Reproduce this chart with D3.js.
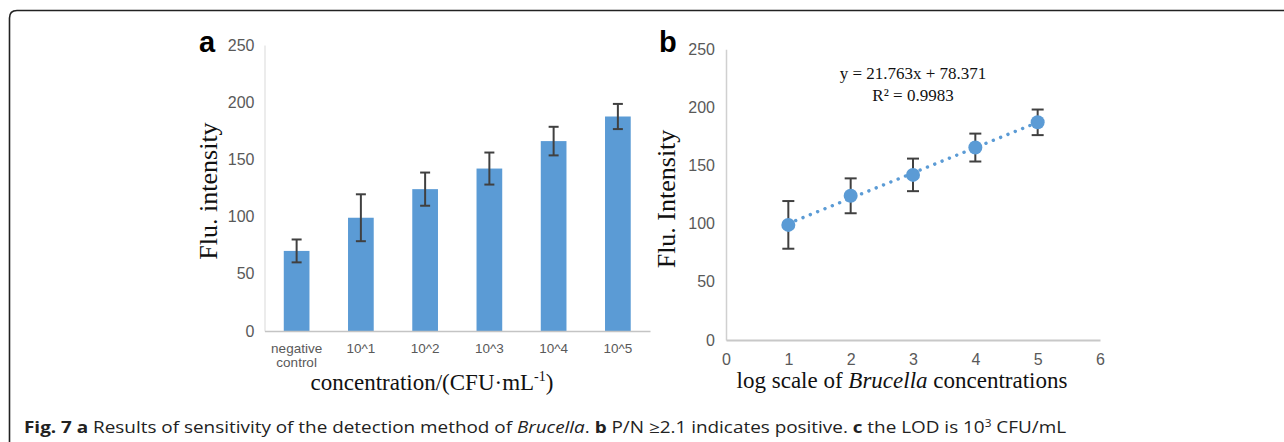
<!DOCTYPE html>
<html>
<head>
    <title>Brucella sensitivity</title>
    <script src="https://d3js.org/d3.v7.min.js"></script>
    <style>
        body { margin: 0; background: #fff; }
        .tick text { fill: #595959; font-family: "Liberation Sans", Arial, sans-serif; }
        .ttl { font-family: "Liberation Serif", "Times New Roman", serif; fill: #111; }
    </style>
</head>
<body>
    <script>
        // Data
        var categoriesA = ["negative control", "10^1", "10^2", "10^3", "10^4", "10^5"];
        var meansA = [70, 99, 124, 142, 166, 187.5];
        var errorsA = [10, 20.5, 14.5, 14, 12.5, 11];

        var logConc = [1, 2, 3, 4, 5];
        var meansB = [99, 124, 142, 165.5, 187.2];
        var errorsB = [20.5, 15, 14, 12, 11];
        var fitSlope = 21.763, fitIntercept = 78.371, fitR2 = 0.9983;

        var yTicks = [0, 50, 100, 150, 200, 250];
        var xTicksB = [0, 1, 2, 3, 4, 5, 6];

        var W = 1284, H = 442;
        var blue = "#5b9bd5", errCol = "#404040";

        var svg = d3.select("body").append("svg")
            .attr("width", W)
            .attr("height", H);

        // outer frame (open at bottom and right)
        svg.append("path")
            .attr("d", "M9.5,442 L9.5,18 Q9.5,10.5 17,10.5 L1284,10.5")
            .attr("fill", "none")
            .attr("stroke", "#222")
            .attr("stroke-width", 1.6);

        // ---------- chart a ----------
        var ga = {left: 264.5, right: 650, top: 45, bottom: 331};
        var xa = d3.scaleBand().domain(categoriesA).range([ga.left, ga.right]).paddingInner(0.6).paddingOuter(0.3);
        var ya = d3.scaleLinear().domain([0, 250]).range([ga.bottom, ga.top]);

        var axA = svg.append("g")
            .attr("transform", "translate(" + ga.left + ",0)")
            .call(d3.axisLeft(ya).tickValues(yTicks).tickSize(0).tickPadding(10));
        axA.select(".domain").attr("stroke", "#d9d9d9");
        axA.selectAll("text").attr("font-size", 16);

        svg.selectAll(".bar")
            .data(meansA)
            .enter().append("rect")
            .attr("class", "bar")
            .attr("x", function(d, i) { return xa(categoriesA[i]); })
            .attr("width", xa.bandwidth())
            .attr("y", function(d) { return ya(d); })
            .attr("height", function(d) { return ya(0) - ya(d); })
            .attr("fill", blue);

        var axAx = svg.append("g")
            .attr("transform", "translate(0," + ga.bottom + ")")
            .call(d3.axisBottom(xa).tickSize(0).tickPadding(12));
        axAx.select(".domain").attr("stroke", "#c4c4c4").attr("stroke-width", 1.5);
        axAx.selectAll("text").attr("font-size", 13.5);
        axAx.selectAll(".tick text").each(function(d) {
            if (d.indexOf(" ") > 0) {
                var t = d3.select(this), parts = d.split(" ");
                t.text(null);
                t.append("tspan").attr("x", 0).attr("dy", "0.71em").text(parts[0]);
                t.append("tspan").attr("x", 0).attr("dy", "1.05em").text(parts[1]);
                t.attr("dy", null).attr("y", 12);
            }
        });

        // error bars a
        var ea = svg.append("g").attr("stroke", errCol).attr("stroke-width", 2).attr("fill", "none");
        meansA.forEach(function(m, i) {
            var cx = xa(categoriesA[i]) + xa.bandwidth() / 2;
            ea.append("line").attr("x1", cx).attr("x2", cx).attr("y1", ya(m - errorsA[i])).attr("y2", ya(m + errorsA[i]));
            ea.append("line").attr("x1", cx - 5).attr("x2", cx + 5).attr("y1", ya(m - errorsA[i])).attr("y2", ya(m - errorsA[i]));
            ea.append("line").attr("x1", cx - 5).attr("x2", cx + 5).attr("y1", ya(m + errorsA[i])).attr("y2", ya(m + errorsA[i]));
        });

        svg.append("text").attr("class", "ttl")
            .attr("x", 432).attr("y", 390)
            .attr("text-anchor", "middle").attr("font-size", 23)
            .text("concentration/(CFU·mL")
            .append("tspan").attr("font-size", 14).attr("dy", -9).text("-1")
            .select(function() { return this.parentNode; })
            .append("tspan").attr("dy", 9).text(")");

        svg.append("text").attr("class", "ttl")
            .attr("transform", "translate(217,191) rotate(-90)")
            .attr("text-anchor", "middle").attr("font-size", 26)
            .text("Flu. intensity");

        svg.append("text")
            .attr("x", 199).attr("y", 52)
            .attr("font-family", "Liberation Sans, Arial, sans-serif")
            .attr("font-weight", "bold").attr("font-size", 29)
            .text("a");

        // ---------- chart b ----------
        var gb = {left: 726, right: 1100, top: 49.3, bottom: 340};
        var xb = d3.scaleLinear().domain([0, 6]).range([gb.left, gb.right]);
        var yb = d3.scaleLinear().domain([0, 250]).range([gb.bottom, gb.top]);

        var axB = svg.append("g")
            .attr("transform", "translate(" + gb.left + ",0)")
            .call(d3.axisLeft(yb).tickValues(yTicks).tickSize(0).tickPadding(11));
        axB.select(".domain").attr("stroke", "#d0d0d0").attr("stroke-width", 1.5);
        axB.selectAll("text").attr("font-size", 16);

        var axBx = svg.append("g")
            .attr("transform", "translate(0," + gb.bottom + ")")
            .call(d3.axisBottom(xb).tickValues(xTicksB).tickSize(0).tickPadding(14).tickFormat(d3.format("d")));
        axBx.select(".domain").attr("stroke", "#c8c8c8").attr("stroke-width", 2.2);
        axBx.selectAll("text").attr("font-size", 16);

        // trendline
        svg.append("line")
            .attr("x1", xb(logConc[0])).attr("y1", yb(fitSlope * logConc[0] + fitIntercept))
            .attr("x2", xb(logConc[logConc.length - 1])).attr("y2", yb(fitSlope * logConc[logConc.length - 1] + fitIntercept))
            .attr("stroke", blue).attr("stroke-width", 3.4)
            .attr("stroke-linecap", "round")
            .attr("stroke-dasharray", "0.1 7.8");

        var eb = svg.append("g").attr("stroke", errCol).attr("stroke-width", 2).attr("fill", "none");
        meansB.forEach(function(m, i) {
            var cx = xb(logConc[i]);
            eb.append("line").attr("x1", cx).attr("x2", cx).attr("y1", yb(m - errorsB[i])).attr("y2", yb(m + errorsB[i]));
            eb.append("line").attr("x1", cx - 6).attr("x2", cx + 6).attr("y1", yb(m - errorsB[i])).attr("y2", yb(m - errorsB[i]));
            eb.append("line").attr("x1", cx - 6).attr("x2", cx + 6).attr("y1", yb(m + errorsB[i])).attr("y2", yb(m + errorsB[i]));
        });

        svg.selectAll(".pt")
            .data(meansB)
            .enter().append("circle")
            .attr("class", "pt")
            .attr("cx", function(d, i) { return xb(logConc[i]); })
            .attr("cy", function(d) { return yb(d); })
            .attr("r", 7)
            .attr("fill", blue);

        svg.append("text").attr("class", "ttl")
            .attr("x", 913).attr("y", 79)
            .attr("text-anchor", "middle").attr("font-size", 17)
            .text("y = " + fitSlope + "x + " + fitIntercept);
        svg.append("text").attr("class", "ttl")
            .attr("x", 913).attr("y", 101)
            .attr("text-anchor", "middle").attr("font-size", 17)
            .text("R² = " + fitR2);

        var tb = svg.append("text").attr("class", "ttl")
            .attr("x", 902).attr("y", 388)
            .attr("text-anchor", "middle").attr("font-size", 23);
        tb.append("tspan").text("log scale of ");
        tb.append("tspan").attr("font-style", "italic").text("Brucella");
        tb.append("tspan").text(" concentrations");

        svg.append("text").attr("class", "ttl")
            .attr("transform", "translate(675,199) rotate(-90)")
            .attr("text-anchor", "middle").attr("font-size", 26)
            .text("Flu. Intensity");

        svg.append("text")
            .attr("x", 659).attr("y", 52)
            .attr("font-family", "Liberation Sans, Arial, sans-serif")
            .attr("font-weight", "bold").attr("font-size", 29)
            .text("b");

        // ---------- caption ----------
        var cap = svg.append("text")
            .attr("x", 24).attr("y", 433)
            .attr("font-family", "Open Sans, sans-serif")
            .attr("font-size", 16)
            .attr("fill", "#222");
        cap.append("tspan").attr("font-weight", "bold").text("Fig. 7 a");
        cap.append("tspan").text(" Results of sensitivity of the detection method of ");
        cap.append("tspan").attr("font-style", "italic").text("Brucella");
        cap.append("tspan").text(". ");
        cap.append("tspan").attr("font-weight", "bold").text("b");
        cap.append("tspan").text(" P/N ≥2.1 indicates positive. ");
        cap.append("tspan").attr("font-weight", "bold").text("c");
        cap.append("tspan").text(" the LOD is 10");
        cap.append("tspan").attr("font-size", 10).attr("dy", -6).text("3");
        cap.append("tspan").attr("dy", 6).text(" CFU/mL");
        cap.attr("textLength", 1042).attr("lengthAdjust", "spacingAndGlyphs");
    </script>
</body>
</html>
